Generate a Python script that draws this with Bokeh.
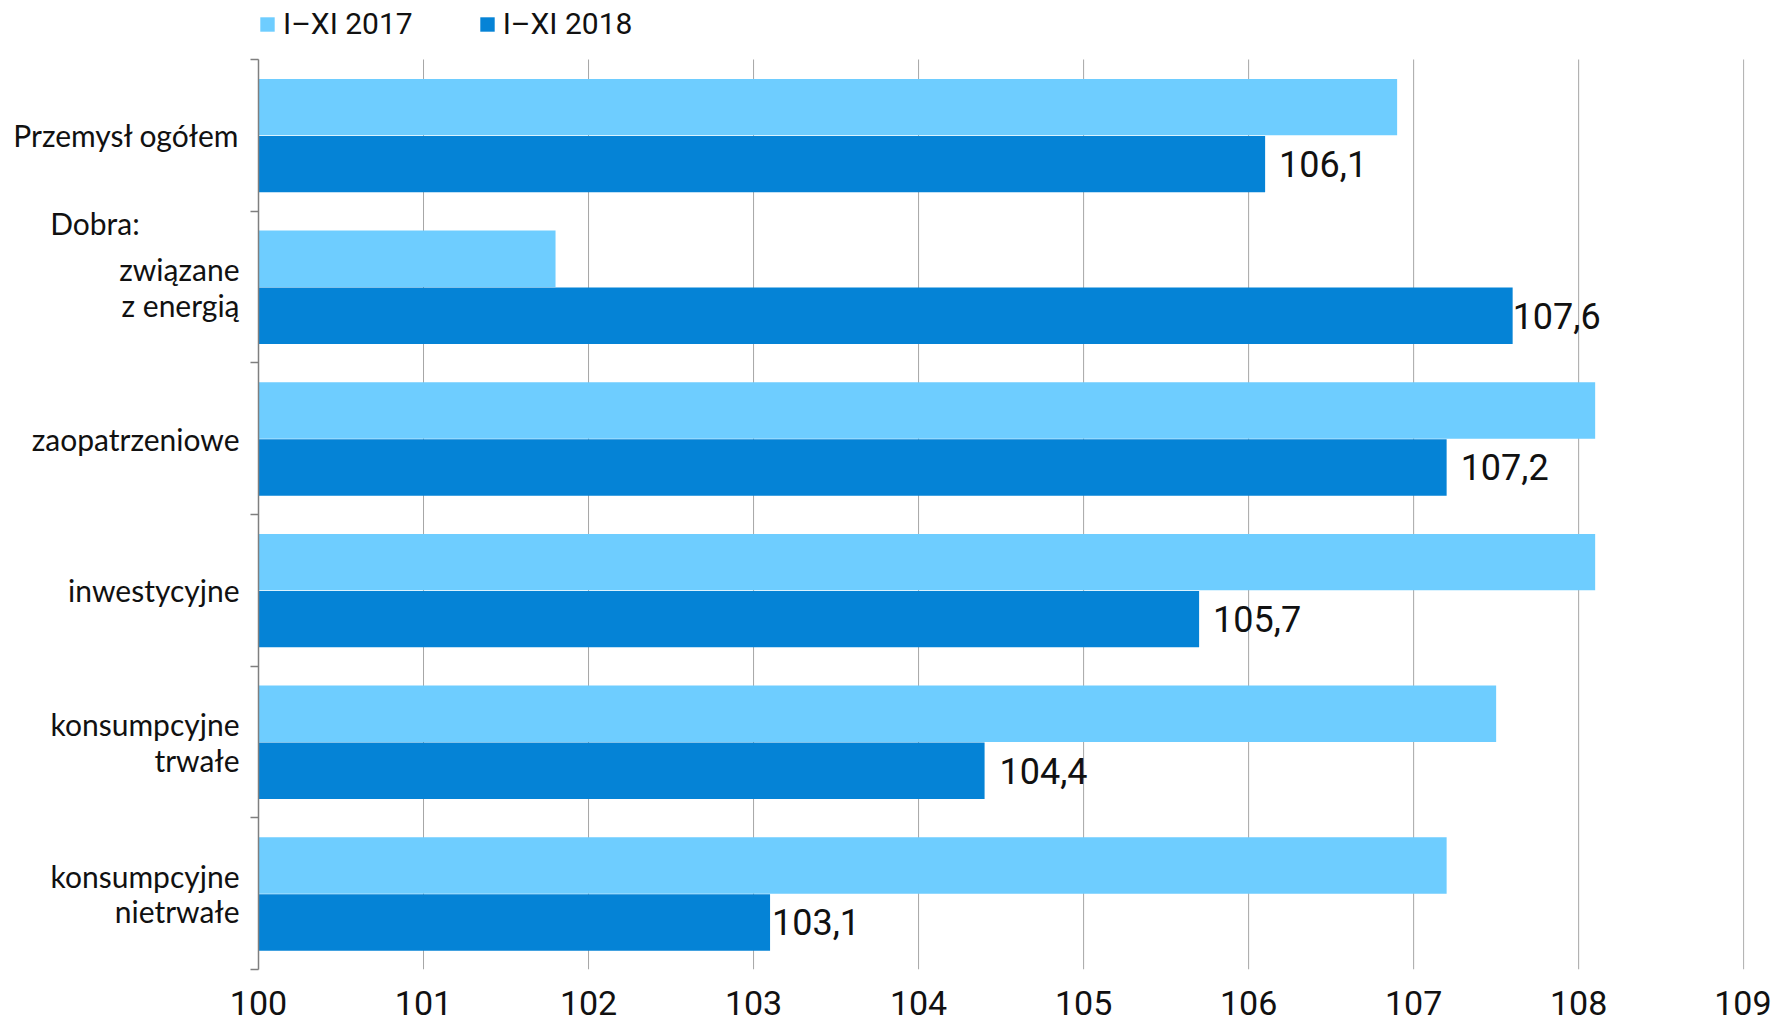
from bokeh.plotting import figure
from bokeh.models import ColumnDataSource, Range1d, FixedTicker, LabelSet
from bokeh.core.properties import value
from bokeh.embed import file_html
from bokeh.resources import INLINE

# ---- data ----
categories = ["Przemysł ogółem", "związane\nz energią", "zaopatrzeniowe",
              "inwestycyjne", "konsumpcyjne\ntrwałe", "konsumpcyjne\nnietrwałe"]
group_heading = "Dobra:"
series_names = ["I–XI 2017", "I–XI 2018"]
values_2017 = [106.9, 101.8, 108.1, 108.1, 107.5, 107.2]
values_2018 = [106.1, 107.6, 107.2, 105.7, 104.4, 103.1]
labels_2018 = ["106,1", "107,6", "107,2", "105,7", "104,4", "103,1"]
x_ticks = [100, 101, 102, 103, 104, 105, 106, 107, 108, 109]

# ---- style ----
LIGHT = "#6ECDFF"
DARK = "#0583D6"
NUM_FONT = "Roboto"
CAT_FONT = "Lato"
TXT = "#111111"
GRID = "#A6A6A6"
LABEL_PAD = [14, 0, 14, 14, 15, 2]
BAR_H = 0.372
W, H = 1771, 1024
FRAME_L, FRAME_R, PLOT_T, FRAME_B = 258, 1744, 59, 969
HEADING_Y = 1.075
NBSP_PAD = 13
LEGEND_BOTTOM = 41

n = len(categories)
top_pad = PLOT_T / ((FRAME_B - PLOT_T) / n)   # room above the bars for the legend
centers = [i + 0.5 for i in range(n)]
y2017 = [c - BAR_H / 2 for c in centers]
y2018 = [c + BAR_H / 2 + 0.004 for c in centers]

src17 = ColumnDataSource(dict(y=y2017, right=values_2017, left=[x_ticks[0]] * n))
src18 = ColumnDataSource(dict(y=y2018, right=values_2018, left=[x_ticks[0]] * n,
                              lab=labels_2018, pad=LABEL_PAD))
srcgrid = ColumnDataSource(dict(x=x_ticks, y0=[0] * len(x_ticks), y1=[n] * len(x_ticks)))

p = figure(frame_width=FRAME_R - FRAME_L, frame_height=FRAME_B,
           title=None, output_backend="svg", toolbar_location=None,
           x_range=Range1d(x_ticks[0], x_ticks[-1] + 0.005),
           y_range=Range1d(n, -top_pad),
           min_border_left=FRAME_L, min_border_right=W - FRAME_R,
           min_border_top=0, min_border_bottom=H - FRAME_B)
p.outline_line_color = None
p.background_fill_color = "white"
p.xgrid.grid_line_color = None
p.ygrid.grid_line_color = None

# vertical grid lines spanning the bar area only
p.segment(x0="x", y0="y0", x1="x", y1="y1", source=srcgrid,
          line_color=GRID, line_width=1)

p.hbar(y="y", left="left", right="right", height=BAR_H, source=src17,
       fill_color=LIGHT, line_color=None, legend_label=series_names[0])
p.hbar(y="y", left="left", right="right", height=BAR_H, source=src18,
       fill_color=DARK, line_color=None, legend_label=series_names[1])

# x axis
xa = p.xaxis[0]
xa.ticker = FixedTicker(ticks=x_ticks)
xa.axis_line_color = None
xa.major_tick_line_color = None
xa.minor_tick_line_color = None
xa.major_label_text_font = NUM_FONT
xa.major_label_text_font_size = "34px"
xa.major_label_text_color = TXT
xa.major_label_standoff = 15

# y axis: labels at band centres, small tick marks at band boundaries
ya = p.yaxis[0]
ya.bounds = (0, n)
ya.ticker = FixedTicker(ticks=centers + [HEADING_Y], minor_ticks=list(range(n + 1)))
overrides = {c: t for c, t in zip(centers, categories)}
overrides[HEADING_Y] = group_heading + "\u00a0" * NBSP_PAD
ya.major_label_overrides = overrides
ya.major_label_text_font = CAT_FONT
ya.major_label_text_font_size = "30px"
ya.major_label_text_color = TXT
ya.major_label_text_line_height = 0.98
ya.major_label_standoff = 11
ya.axis_line_color = "#7F7F7F"
ya.axis_line_width = 1.5
ya.major_tick_line_color = None
ya.major_tick_out = 0
ya.major_tick_in = 0
ya.minor_tick_line_color = "#7F7F7F"
ya.minor_tick_line_width = 1.5
ya.minor_tick_out = 8
ya.minor_tick_in = 0

val_labels = LabelSet(x="right", y="y", text="lab", source=src18, x_offset="pad",
                      text_align="left", text_baseline="middle",
                      text_font=value(NUM_FONT), text_font_size=value("36px"),
                      text_color=TXT)
p.add_layout(val_labels)

lg = p.legend[0]
lg.location = (0, FRAME_B - LEGEND_BOTTOM)
lg.orientation = "horizontal"
lg.border_line_color = None
lg.background_fill_alpha = 0
lg.padding = 0
lg.margin = 0
lg.spacing = 65
lg.glyph_width = 18
lg.glyph_height = 18
lg.label_standoff = 7
lg.label_text_font = NUM_FONT
lg.label_text_font_size = "30px"
lg.label_text_color = TXT

open("out.html", "w").write(file_html(p, INLINE))
